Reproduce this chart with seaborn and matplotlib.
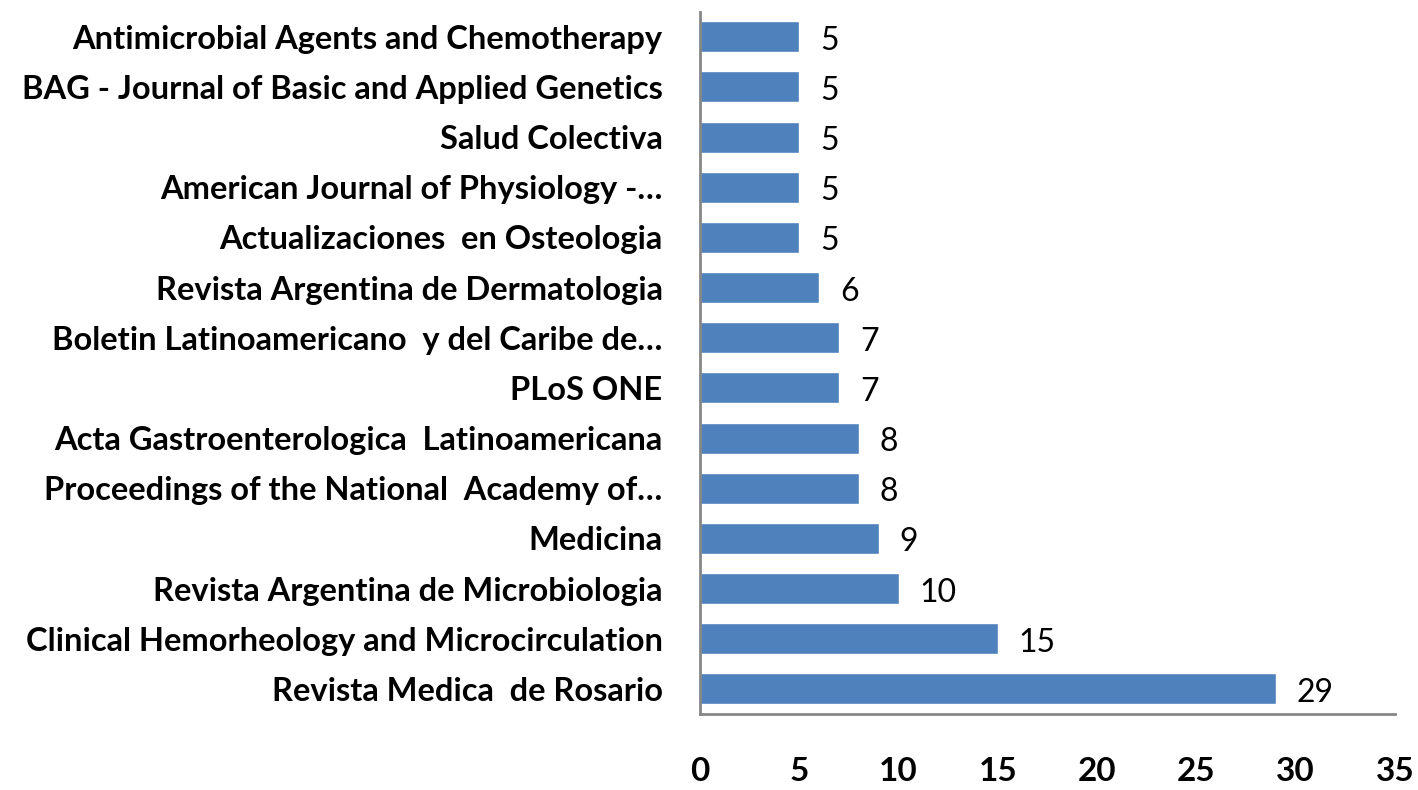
import matplotlib
matplotlib.use('Agg')
import matplotlib.pyplot as plt
import seaborn as sns
import pandas as pd

# journals (top to bottom) and number of papers
journals = [
    'Antimicrobial Agents and Chemotherapy',
    'BAG - Journal of Basic and Applied Genetics',
    'Salud Colectiva',
    'American Journal of Physiology -…',
    'Actualizaciones  en Osteologia',
    'Revista Argentina de Dermatologia',
    'Boletin Latinoamericano  y del Caribe de…',
    'PLoS ONE',
    'Acta Gastroenterologica  Latinoamericana',
    'Proceedings of the National  Academy of…',
    'Medicina',
    'Revista Argentina de Microbiologia',
    'Clinical Hemorheology and Microcirculation',
    'Revista Medica  de Rosario',
]
counts = [5, 5, 5, 5, 5, 6, 7, 7, 8, 8, 9, 10, 15, 29]
x_ticks = [0, 5, 10, 15, 20, 25, 30, 35]

df = pd.DataFrame({'journal': journals, 'count': counts})

sns.set_style('white')
plt.rcParams['font.family'] = ['Lato', 'DejaVu Sans']
plt.rcParams['text.color'] = 'black'
plt.rcParams['xtick.color'] = 'black'
plt.rcParams['ytick.color'] = 'black'

fig = plt.figure(figsize=(14.18, 7.9), dpi=100)
ax = fig.add_axes([0.4937, 0.0962, 0.49, 0.889])

sns.barplot(data=df, x='count', y='journal', orient='h', color='#4F81BD',
            saturation=1, width=0.62, ax=ax)

for i, v in enumerate(counts):
    ax.text(v + 1.05, i + 0.08, str(v), va='center', ha='left', fontsize=23,
            color='black')

ax.set_xlim(0, 35)
ax.set_ylim(13.5, -0.5)
ax.set_xticks(x_ticks)
ax.set_xticklabels([str(t) for t in x_ticks], fontsize=24, fontweight='bold')
ax.set_yticks(range(len(journals)))
ax.set_yticklabels(journals, fontsize=23.5, fontweight='bold')
ax.tick_params(axis='x', length=0, pad=31)
ax.tick_params(axis='y', length=0, pad=27)
ax.set_xlabel('')
ax.set_ylabel('')

for side in ['top', 'right']:
    ax.spines[side].set_visible(False)
for side in ['left', 'bottom']:
    ax.spines[side].set_color('#868686')
    ax.spines[side].set_linewidth(2)

fig.savefig('out.png', dpi=100)
